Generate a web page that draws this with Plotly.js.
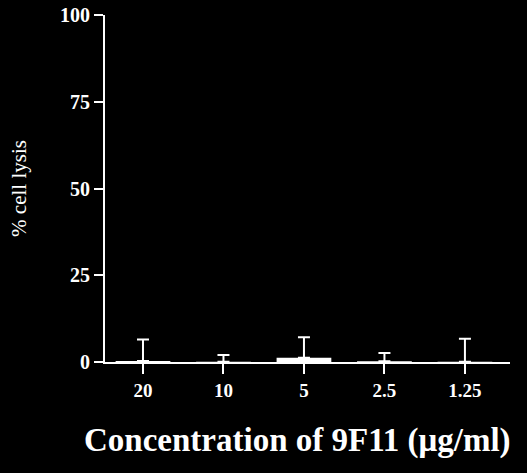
<!DOCTYPE html>
<html>
<head>
<meta charset="utf-8">
<script src="https://cdn.plot.ly/plotly-3.0.1.min.js"></script>
<style>html,body{margin:0;padding:0;background:#000;}#chart{width:527px;height:473px;}</style>
</head>
<body>
<div id="chart"></div>
<script>
const categories = ["20", "10", "5", "2.5", "1.25"];
const lysis = [0.3, 0.1, 1.2, 0.2, 0.1];
const errors = [6.2, 1.9, 5.9, 2.4, 6.6];
const yTicks = [0, 25, 50, 75, 100];
const xTitle = "Concentration of 9F11 (μg/ml)";

const font = {family: "Liberation Serif, Times New Roman, serif", color: "#fff"};

Plotly.newPlot("chart", [{
  type: "bar",
  x: categories,
  y: lysis,
  width: 0.68,
  marker: {color: "#fff", line: {width: 0}},
  error_y: {type: "data", array: errors, arrayminus: lysis.map(() => 0), visible: true, color: "#fff", thickness: 2, width: 6}
}], {
  width: 527, height: 473,
  paper_bgcolor: "#000", plot_bgcolor: "#000",
  margin: {l: 105, r: 17, t: 15, b: 111},
  showlegend: false,
  xaxis: {
    type: "category",
    range: [-0.472, 4.56],
    showline: true, linecolor: "#fff", linewidth: 2,
    ticks: "outside", tickcolor: "#fff", ticklen: 10, tickwidth: 2,
    tickfont: Object.assign({size: 19, weight: "bold"}, font),
    showgrid: false, zeroline: false
  },
  yaxis: {
    range: [0, 100],
    tickvals: yTicks,
    showline: true, linecolor: "#fff", linewidth: 2,
    ticks: "outside", tickcolor: "#fff", ticklen: 9, tickwidth: 2,
    tickfont: Object.assign({size: 20, weight: "bold"}, font),
    showgrid: false, zeroline: false,
    title: {text: "% cell lysis", font: Object.assign({size: 21}, font), standoff: 28}
  },
  annotations: [{
    text: xTitle, xref: "paper", yref: "paper",
    x: 0.4765, y: -0.225, xanchor: "center", yanchor: "middle",
    showarrow: false,
    font: Object.assign({size: 33, weight: "bold"}, font)
  }]
}, {displayModeBar: false, staticPlot: true});
</script>
</body>
</html>
